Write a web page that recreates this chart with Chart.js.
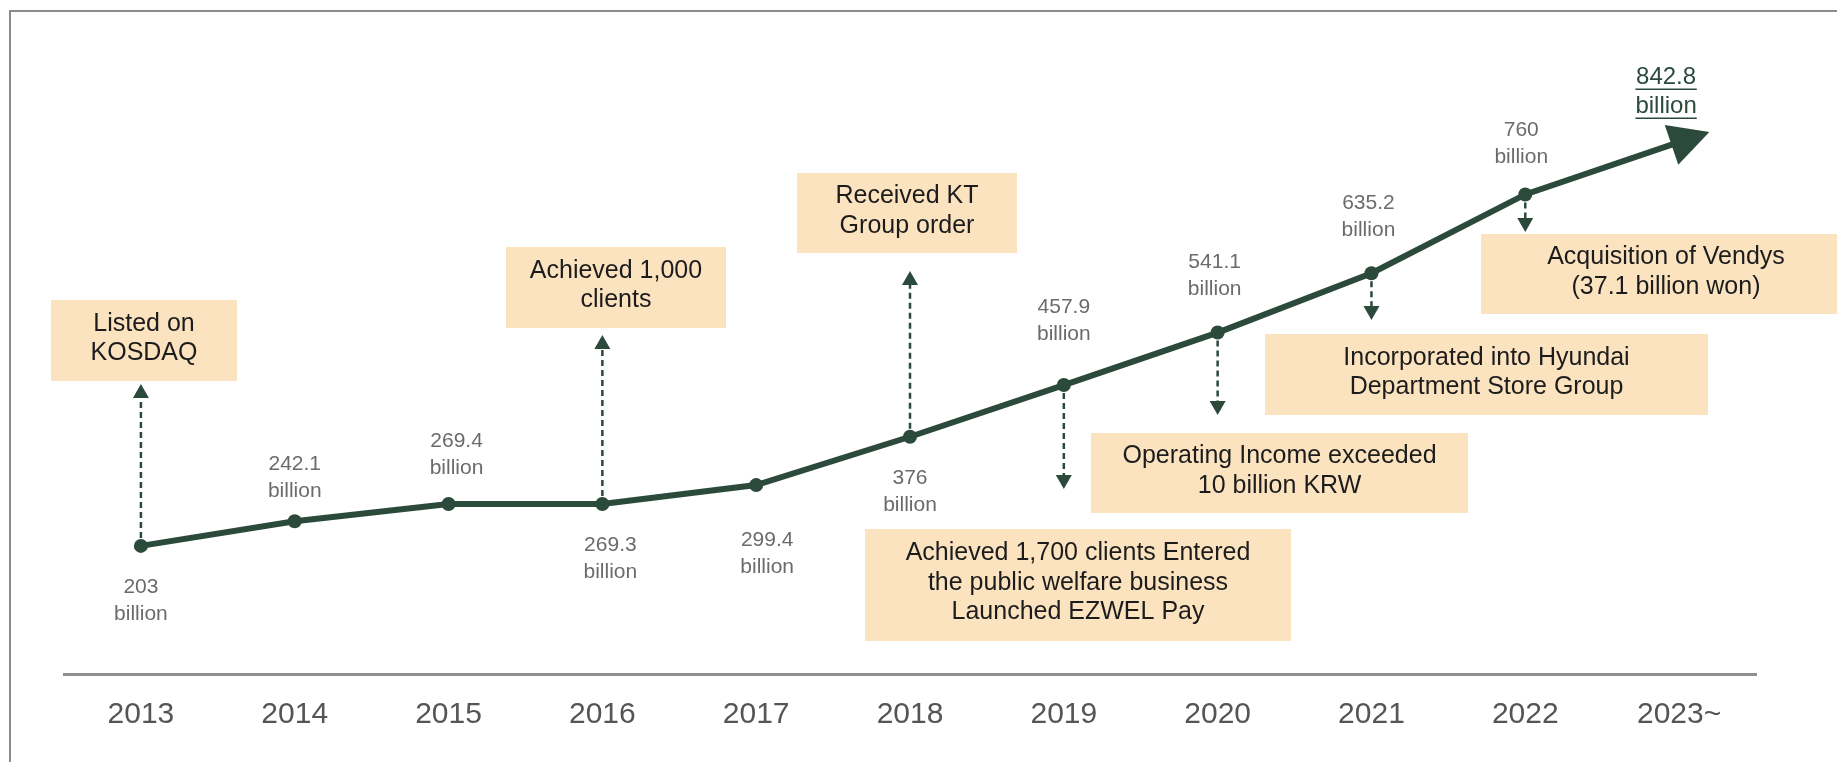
<!DOCTYPE html>
<html>
<head>
<meta charset="utf-8">
<script src="https://cdn.jsdelivr.net/npm/chart.js@4.4.1/dist/chart.umd.min.js"></script>
<style>
  html, body { margin: 0; padding: 0; background: #fff; }
</style>
</head>
<body>
<canvas id="myChart" width="1837" height="762"></canvas>
<script>
(() => {
  'use strict'

  // data
  const years = ['2013', '2014', '2015', '2016', '2017', '2018', '2019', '2020', '2021', '2022', '2023~']
  const sales = [203, 242.1, 269.4, 269.3, 299.4, 376, 457.9, 541.1, 635.2, 760, 842.8]
  const salesText = ['203', '242.1', '269.4', '269.3', '299.4', '376', '457.9', '541.1', '635.2', '760', '842.8']
  const unitText = 'billion'

  const eventYears = ['2013', '2016', '2018', '2019', '2020', '2021', '2022']
  const eventTexts = [
    ['Listed on', 'KOSDAQ'],
    ['Achieved 1,000', 'clients'],
    ['Received KT', 'Group order'],
    ['Achieved 1,700 clients Entered', 'the public welfare business', 'Launched EZWEL Pay'],
    ['Operating Income exceeded', '10 billion KRW'],
    ['Incorporated into Hyundai', 'Department Store Group'],
    ['Acquisition of Vendys', '(37.1 billion won)']
  ]

  // layout of the annotations (pixels)
  const eventBoxes = [
    { x: 51, y: 300, w: 186, h: 81 },
    { x: 506, y: 247, w: 220, h: 81 },
    { x: 797, y: 173, w: 220, h: 80 },
    { x: 865, y: 529, w: 426, h: 112 },
    { x: 1091, y: 433, w: 377, h: 80 },
    { x: 1265, y: 334, w: 443, h: 81 },
    { x: 1481, y: 234, w: 370, h: 80 }
  ]
  const eventArrowTips = [384, 335, 271, 489, 415, 320, 232]
  const labelDx = [0, 0, 8, 8, 11, 0, 0, -3, -3, -4, -13]
  const labelDy = [41, -57, -63, 41, 55, 41, -78, -70, -70, -64, -65]

  const FONT = '"Liberation Sans", Arial, sans-serif'
  const GREEN = '#2b4a3b'
  const BOX = '#fbe3c0'

  const frame = {
    id: 'frame',
    beforeDraw(chart) {
      const c = chart.ctx
      c.save()
      c.strokeStyle = '#8c8c8c'
      c.lineWidth = 2
      c.beginPath()
      c.moveTo(chart.width, 11)
      c.lineTo(10, 11)
      c.lineTo(10, chart.height)
      c.stroke()
      c.restore()
    }
  }

  const events = {
    id: 'events',
    beforeDatasetsDraw(chart) {
      const c = chart.ctx
      const meta = chart.getDatasetMeta(0)
      c.save()
      eventYears.forEach((yr, i) => {
        const b = eventBoxes[i]
        c.fillStyle = BOX
        c.fillRect(b.x, b.y, b.w, b.h)
        c.fillStyle = '#1c1c1c'
        c.font = '25px ' + FONT
        c.textAlign = 'center'
        c.textBaseline = 'middle'
        const lines = eventTexts[i]
        const lh = 29.5
        const cy = b.y + b.h / 2 - 2
        lines.forEach((t, j) => {
          c.fillText(t, b.x + b.w / 2, cy + (j - (lines.length - 1) / 2) * lh)
        })

        // dashed arrow from the data point to the note
        const pt = meta.data[years.indexOf(yr)]
        const tip = eventArrowTips[i]
        const dir = tip < pt.y ? -1 : 1
        c.strokeStyle = GREEN
        c.fillStyle = GREEN
        c.lineWidth = 2.5
        c.setLineDash([6, 4])
        c.beginPath()
        c.moveTo(pt.x, pt.y + dir * 8)
        c.lineTo(pt.x, tip - dir * 10)
        c.stroke()
        c.setLineDash([])
        c.beginPath()
        c.moveTo(pt.x, tip)
        c.lineTo(pt.x - 8, tip - dir * 14)
        c.lineTo(pt.x + 8, tip - dir * 14)
        c.closePath()
        c.fill()
      })
      c.restore()
    }
  }

  const valueLabels = {
    id: 'valueLabels',
    afterDatasetsDraw(chart) {
      const c = chart.ctx
      const meta = chart.getDatasetMeta(0)
      c.save()
      c.textAlign = 'center'
      c.textBaseline = 'middle'
      meta.data.forEach((pt, i) => {
        const last = i === meta.data.length - 1
        const x = pt.x + labelDx[i]
        const y = pt.y + labelDy[i]
        const size = last ? 24 : 21
        const lh = last ? 29 : 27
        c.font = size + 'px ' + FONT
        c.fillStyle = last ? GREEN : '#6b6b6b'
        c.fillText(salesText[i], x, y)
        c.fillText(unitText, x, y + lh)
        if (last) {
          c.strokeStyle = GREEN
          c.lineWidth = 1.5
          const w = Math.max(c.measureText(salesText[i]).width, c.measureText(unitText).width)
          ;[y, y + lh].forEach(yy => {
            c.beginPath()
            c.moveTo(x - w / 2, yy + 12)
            c.lineTo(x + w / 2, yy + 12)
            c.stroke()
          })
        }
      })

      // arrow head at the end of the line
      const a = meta.data[meta.data.length - 2]
      const b = meta.data[meta.data.length - 1]
      const dx = b.x - a.x
      const dy = b.y - a.y
      const len = Math.hypot(dx, dy)
      const ux = dx / len
      const uy = dy / len
      const tipX = b.x + ux * 32
      const tipY = b.y + uy * 32
      const baseX = b.x - ux * 8
      const baseY = b.y - uy * 8
      c.fillStyle = GREEN
      c.beginPath()
      c.moveTo(tipX, tipY)
      c.lineTo(baseX - uy * 21, baseY + ux * 21)
      c.lineTo(baseX + uy * 21, baseY - ux * 21)
      c.closePath()
      c.fill()
      c.restore()
    }
  }

  const ctx = document.getElementById('myChart')
  new Chart(ctx, {
    type: 'line',
    data: {
      labels: years,
      datasets: [{
        data: sales,
        borderColor: GREEN,
        borderWidth: 6,
        backgroundColor: GREEN,
        pointBackgroundColor: GREEN,
        pointBorderWidth: 0,
        pointRadius: sales.map((v, i) => i === sales.length - 1 ? 0 : 7),
        tension: 0,
        fill: false
      }]
    },
    options: {
      responsive: false,
      animation: false,
      layout: {
        padding: { left: 64, right: 81, top: 43, bottom: 6 }
      },
      scales: {
        x: {
          offset: true,
          grid: { display: false, drawTicks: false },
          border: { display: true, color: '#8f8f8f', width: 3 },
          ticks: {
            color: '#555555',
            padding: 23,
            font: { size: 30, family: FONT }
          }
        },
        y: {
          display: false,
          min: 0,
          max: 1000
        }
      },
      plugins: {
        legend: { display: false },
        tooltip: { enabled: false }
      }
    },
    plugins: [frame, events, valueLabels]
  })
})()
</script>
</body>
</html>
